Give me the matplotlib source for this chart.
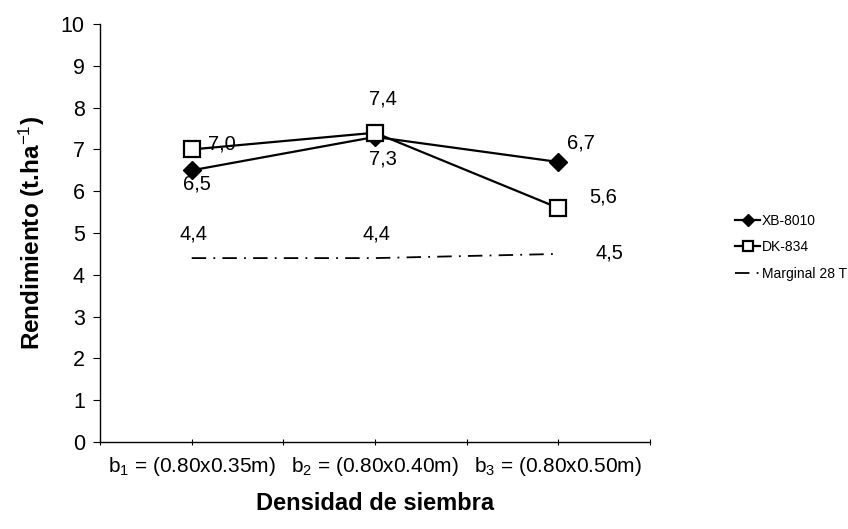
import matplotlib
matplotlib.use("Agg")
import matplotlib.pyplot as plt

plt.rcParams['font.family'] = ['Liberation Sans', 'DejaVu Sans']
plt.rcParams['mathtext.fontset'] = 'custom'
plt.rcParams['mathtext.rm'] = 'Liberation Sans'
plt.rcParams['mathtext.it'] = 'Liberation Sans:italic'
plt.rcParams['mathtext.bf'] = 'Liberation Sans:bold'

categories = ["b$_1$ = (0.80x0.35m)", "b$_2$ = (0.80x0.40m)", "b$_3$ = (0.80x0.50m)"]
xb_8010 = [6.5, 7.3, 6.7]
dk_834 = [7.0, 7.4, 5.6]
marginal = [4.4, 4.4, 4.5]
yticks = list(range(0, 11))

fig = plt.figure(figsize=(8.48, 5.29), dpi=100)
ax = fig.add_axes([0.118, 0.1645, 0.6485, 0.79])

x = [1, 2, 3]
l1, = ax.plot(x, xb_8010, color='black', lw=1.6, marker='D', ms=9,
              mfc='black', mec='black', label='XB-8010', zorder=3)
l2, = ax.plot(x, dk_834, color='black', lw=1.6, marker='s', ms=11,
              mfc='white', mec='black', mew=1.6, label='DK-834', zorder=4)
l3, = ax.plot(x, marginal, color='black', lw=1.3, ls=(0, (8, 4, 1, 4)),
              label='Marginal 28 T', zorder=2)

def fmt(v):
    return f"{v:.1f}".replace('.', ',')

fs = 14.5
# value labels (offsets in points from each point)
offsets_dk = [(22, 4), (6, 24), (32, 8)]
offsets_xb = [(4, -10), (6, -16), (16, 14)]
offsets_mg = [(1, 17), (1, 17), (37, 1)]
for i in range(3):
    ax.annotate(fmt(dk_834[i]), (x[i], dk_834[i]), xytext=offsets_dk[i],
                textcoords='offset points', ha='center', va='center', fontsize=fs)
    ax.annotate(fmt(xb_8010[i]), (x[i], xb_8010[i]), xytext=offsets_xb[i],
                textcoords='offset points', ha='center', va='center', fontsize=fs)
    ax.annotate(fmt(marginal[i]), (x[i], marginal[i]), xytext=offsets_mg[i],
                textcoords='offset points', ha='center', va='center', fontsize=fs)

ax.set_xlim(0.5, 3.5)
ax.set_ylim(0, 10)
ax.set_yticks(yticks)
ax.set_yticklabels([str(t) for t in yticks], fontsize=15.5)
ax.set_xticks(x)
ax.set_xticklabels(categories, fontsize=15)
ax.set_xticks([0.5, 1.5, 2.5, 3.5], minor=True)
ax.tick_params(axis='y', direction='out', length=5, width=0.8, pad=6)
ax.tick_params(axis='x', which='both', direction='inout', length=5, width=0.8, pad=7)

for side in ['top', 'right']:
    ax.spines[side].set_visible(False)
for side in ['left', 'bottom']:
    ax.spines[side].set_linewidth(1.0)

ax.set_ylabel("Rendimiento (t.ha$^{-1}$)", fontsize=17.5, fontweight='bold', labelpad=10)
ax.set_xlabel("Densidad de siembra", fontsize=17, fontweight='bold', labelpad=10)

leg = fig.legend(handles=[l1, l2, l3], loc='upper left', bbox_to_anchor=(0.864, 0.601),
                 frameon=False, fontsize=10, handlelength=1.8, handletextpad=0.1,
                 labelspacing=0.9, markerscale=0.7, borderaxespad=0, borderpad=0.2)

fig.savefig("out.png", dpi=100)
